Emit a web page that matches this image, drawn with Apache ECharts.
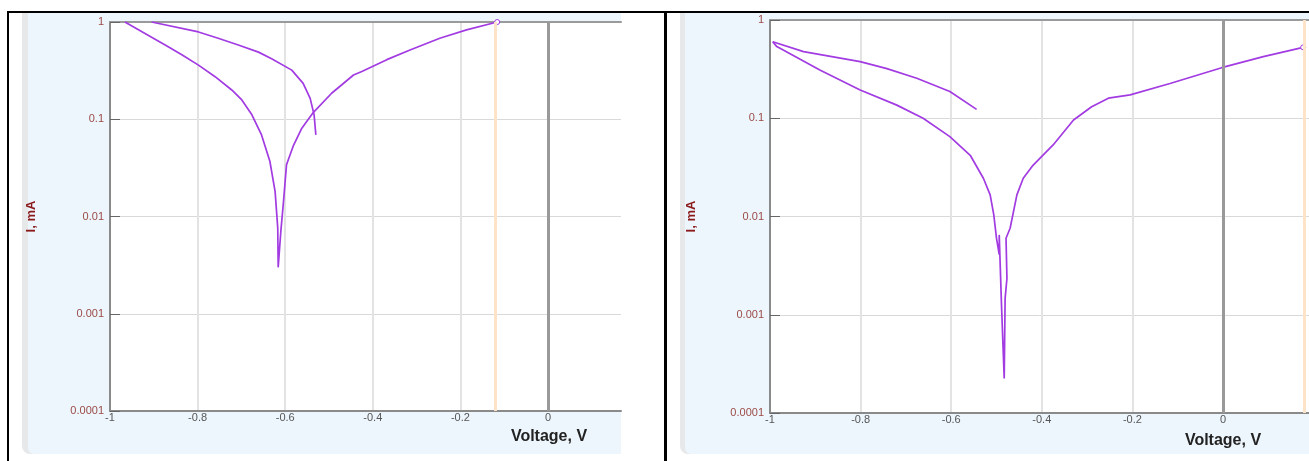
<!DOCTYPE html>
<html>
<head>
<meta charset="utf-8">
<script src="https://cdn.jsdelivr.net/npm/echarts@6/dist/echarts.min.js"></script>
<style>
  html, body { margin: 0; padding: 0; background: #fff; }
  #chart { width: 1309px; height: 461px; }
</style>
</head>
<body>
<div id="chart"></div>
<script type="text/javascript">
// y axis tick labels (decades)
var yTickLabels = ['0.0001', '0.001', '0.01', '0.1', '1'];

// left panel - scan going down through Ecorr and up to end point
var leftVoltA = [-0.966, -0.874, -0.836, -0.798, -0.760, -0.722, -0.699, -0.676, -0.654, -0.635, -0.623, -0.617, -0.616,
  -0.610, -0.604, -0.597, -0.581, -0.562, -0.536, -0.494, -0.444, -0.425, -0.368, -0.315, -0.247, -0.186, -0.116];
var leftCurrA = [1.0, 0.58, 0.46, 0.36, 0.274, 0.20, 0.158, 0.111, 0.069, 0.037, 0.018, 0.0076, 0.0030,
  0.0070, 0.014, 0.034, 0.054, 0.081, 0.117, 0.185, 0.285, 0.31, 0.41, 0.515, 0.68, 0.83, 1.0];
// left panel - second branch
var leftVoltB = [-0.905, -0.798, -0.753, -0.707, -0.661, -0.631, -0.585, -0.559, -0.543, -0.534, -0.530];
var leftCurrB = [1.0, 0.79, 0.68, 0.58, 0.49, 0.42, 0.32, 0.234, 0.164, 0.111, 0.069];

// right panel - lower branch through Ecorr to end point
var rightVoltA = [-0.994, -0.985, -0.890, -0.801, -0.720, -0.662, -0.603, -0.558, -0.529, -0.514, -0.506, -0.500,
  -0.494, -0.494, -0.489, -0.483, -0.481, -0.477, -0.479, -0.470, -0.455, -0.441, -0.419, -0.375, -0.330, -0.290,
  -0.253, -0.205, -0.117, -0.003, 0.089, 0.177];
var rightCurrA = [0.60, 0.536, 0.31, 0.194, 0.136, 0.100, 0.065, 0.042, 0.0245, 0.0166, 0.0104, 0.0060,
  0.0041, 0.0065, 0.00126, 0.000225, 0.00147, 0.00234, 0.0060, 0.0076, 0.0166, 0.0245, 0.0334, 0.0535, 0.096, 0.131,
  0.160, 0.173, 0.226, 0.327, 0.424, 0.527];
// right panel - upper branch
var rightVoltB = [-0.994, -0.926, -0.801, -0.742, -0.676, -0.603, -0.544];
var rightCurrB = [0.60, 0.476, 0.377, 0.32, 0.255, 0.187, 0.123];

// end of sweep (orange line)
var leftSweepEnd = -0.116;
var rightSweepEnd = 0.177;

var purple = '#a23be2';
var font = "'Liberation Sans', Arial, sans-serif";

// withEnd: last point gets the small open circle
function pairs(v, c, withEnd) {
  return v.map(function (x, k) {
    if (withEnd && k === v.length - 1) {
      return { value: [x, c[k]], symbol: 'circle', symbolSize: 5,
        itemStyle: { color: '#fff', borderColor: purple, borderWidth: 1 } };
    }
    return { value: [x, c[k]], symbol: 'none' };
  });
}

function bottomAxis(grid, max) {
  return {
    type: 'value', gridIndex: grid, min: -1, max: max, interval: 0.2, position: 'bottom',
    axisLine: { show: true, onZero: false, lineStyle: { color: '#8a8a8a', width: 2 } },
    axisTick: { show: false },
    axisLabel: { color: '#555', fontSize: 11, fontFamily: font, margin: 1, showMaxLabel: false },
    splitLine: { show: true, showMinLine: false, showMaxLine: false, lineStyle: { color: '#e3e3e3', width: 2 } }
  };
}
function topAxis(grid, max) {
  return {
    type: 'value', gridIndex: grid, min: -1, max: max, position: 'top',
    axisLine: { show: true, onZero: false, lineStyle: { color: '#9a9a9a', width: 2 } },
    axisTick: { show: false }, axisLabel: { show: false }, splitLine: { show: false }
  };
}
function logAxis(grid) {
  return {
    type: 'log', logBase: 10, gridIndex: grid, min: 0.0001, max: 1,
    name: 'I, mA', nameLocation: 'middle', nameGap: 72,
    nameTextStyle: { color: '#8b1a1a', fontWeight: 'bold', fontSize: 13, fontFamily: font },
    axisLine: { show: true, onZero: false, lineStyle: { color: '#8a8a8a', width: 2 } },
    axisTick: { show: true, inside: true, length: 10, lineStyle: { color: '#666', width: 1 } },
    axisLabel: {
      color: '#9a4b47', fontSize: 11, fontFamily: font, margin: 6,
      formatter: function (v) { return yTickLabels[Math.round(Math.log10(v)) + 4]; }
    },
    splitLine: { show: true, showMinLine: false, showMaxLine: false, lineStyle: { color: '#d9d9d9', width: 1 } }
  };
}
function refLines(xi, yi, sweepEnd) {
  return {
    type: 'line', xAxisIndex: xi, yAxisIndex: yi, data: [], z: 1, silent: true,
    markLine: {
      symbol: 'none', silent: true, label: { show: false }, animation: false,
      data: [
        { xAxis: sweepEnd, lineStyle: { color: '#fde3c8', width: 3, type: 'solid' } },
        { xAxis: 0, lineStyle: { color: '#999', width: 3, type: 'solid' } }
      ]
    }
  };
}
function curve(xi, yi, v, c, withEnd) {
  return {
    type: 'line', xAxisIndex: xi, yAxisIndex: yi, data: pairs(v, c, withEnd),
    showSymbol: true, showAllSymbol: true, smooth: false, animation: false, clip: false,
    lineStyle: { color: purple, width: 1.7 }
  };
}

var myChart = echarts.init(document.getElementById('chart'));
var option = {
  backgroundColor: '#fff',
  textStyle: { fontFamily: font },
  grid: [
    { left: 110, top: 22, width: 511, height: 389, show: true, backgroundColor: '#fff', borderWidth: 0 },
    { left: 770, top: 20, width: 539, height: 393, show: true, backgroundColor: '#fff', borderWidth: 0 }
  ],
  xAxis: [bottomAxis(0, 0.1667), bottomAxis(1, 0.1898), topAxis(0, 0.1667), topAxis(1, 0.1898)],
  yAxis: [logAxis(0), logAxis(1)],
  graphic: [
    // panel backgrounds
    { type: 'rect', z: -10, shape: { x: 22, y: 13, width: 599, height: 441, r: [0, 0, 0, 8] }, style: { fill: '#e6e8ea' } },
    { type: 'rect', z: -9, shape: { x: 28, y: 13, width: 593, height: 441, r: [0, 0, 0, 6] }, style: { fill: '#eef6fd' } },
    { type: 'rect', z: -10, shape: { x: 680, y: 13, width: 629, height: 441, r: [0, 0, 0, 8] }, style: { fill: '#e6e8ea' } },
    { type: 'rect', z: -9, shape: { x: 685, y: 13, width: 624, height: 441, r: [0, 0, 0, 6] }, style: { fill: '#eef6fd' } },
    // table borders
    { type: 'rect', z: 100, shape: { x: 7, y: 11, width: 1302, height: 2 }, style: { fill: '#000' } },
    { type: 'rect', z: 100, shape: { x: 7, y: 11, width: 2, height: 450 }, style: { fill: '#000' } },
    { type: 'rect', z: 100, shape: { x: 664, y: 11, width: 3, height: 450 }, style: { fill: '#000' } },
    // axis titles
    { type: 'text', z: 50, x: 549, y: 437, style: { text: 'Voltage, V', font: 'bold 16px ' + font, fill: '#222', textAlign: 'center', textVerticalAlign: 'middle' } },
    { type: 'text', z: 50, x: 1223, y: 441, style: { text: 'Voltage, V', font: 'bold 16px ' + font, fill: '#222', textAlign: 'center', textVerticalAlign: 'middle' } }
  ],
  series: [
    refLines(0, 0, leftSweepEnd),
    refLines(1, 1, rightSweepEnd),
    curve(0, 0, leftVoltA, leftCurrA, true),
    curve(0, 0, leftVoltB, leftCurrB, false),
    curve(1, 1, rightVoltA, rightCurrA, true),
    curve(1, 1, rightVoltB, rightCurrB, false)
  ]
};
myChart.setOption(option);
</script>
</body>
</html>
